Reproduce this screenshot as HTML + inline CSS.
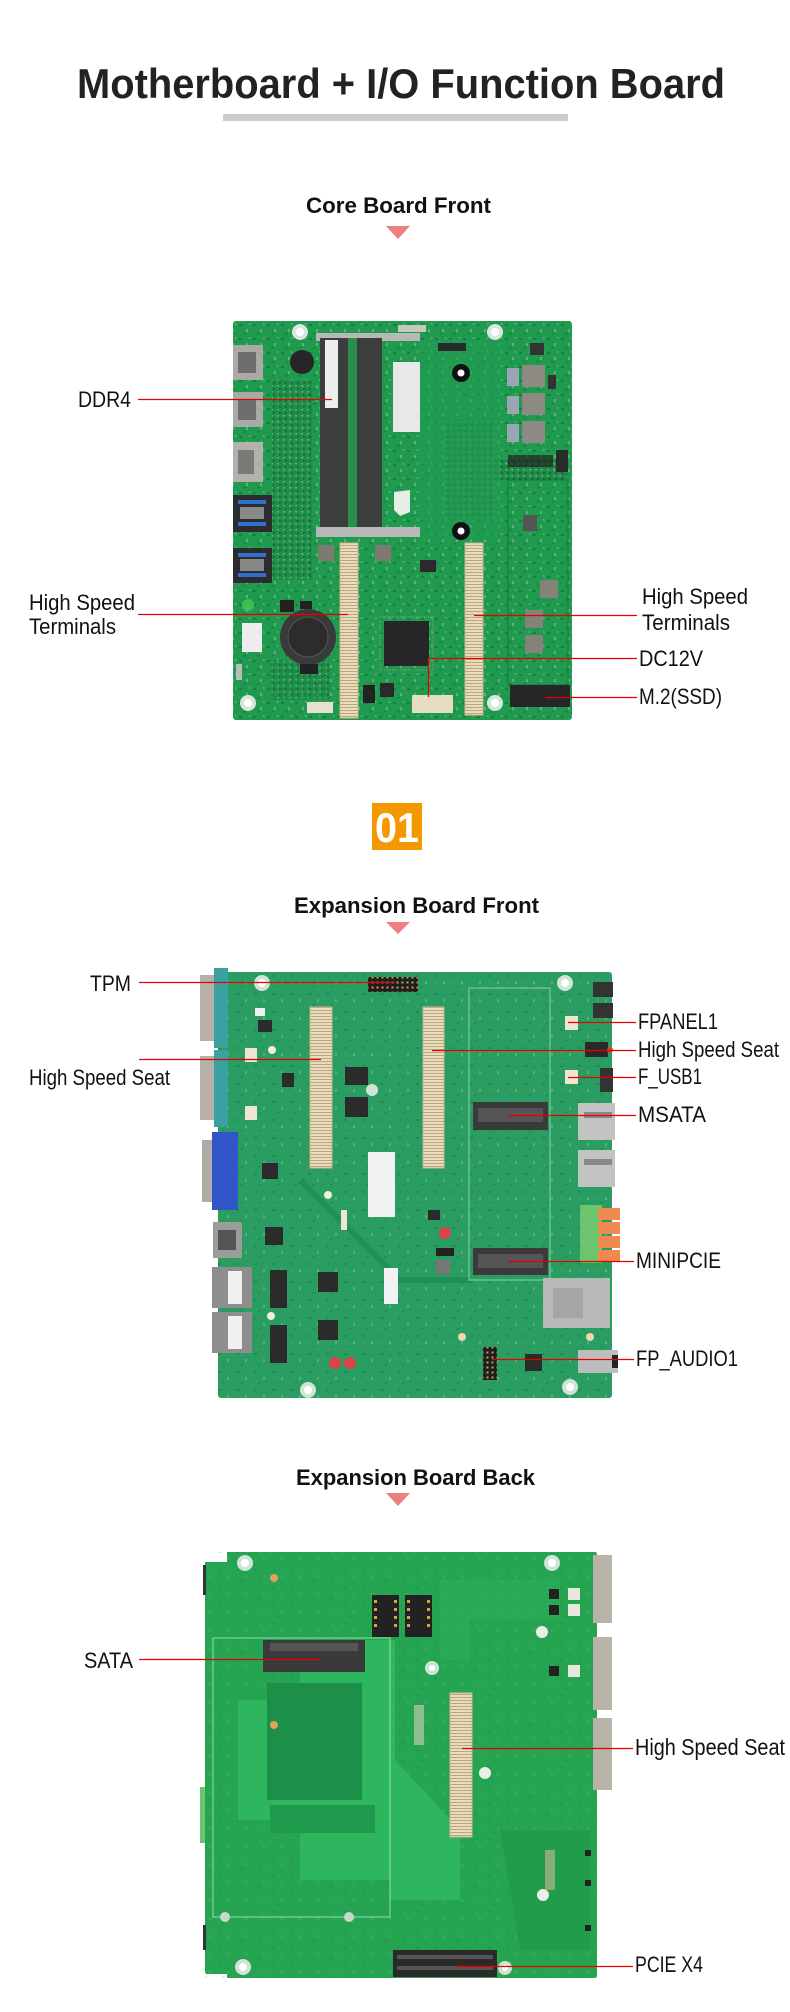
<!DOCTYPE html>
<html><head><meta charset="utf-8"><style>
html,body{margin:0;padding:0;background:#fff;}
svg{display:block;}
text{font-family:"Liberation Sans",Arial,sans-serif;}
</style></head><body>
<svg width="790" height="2012" viewBox="0 0 790 2012" xmlns="http://www.w3.org/2000/svg">
<defs>
<pattern id="tex" width="14" height="14" patternUnits="userSpaceOnUse">
<rect x="1" y="2" width="3" height="2" fill="#0b5e2c" opacity="0.45"/>
<rect x="8" y="7" width="2" height="3" fill="#d8d8c8" opacity="0.35"/>
<rect x="5" y="11" width="3" height="1.5" fill="#0b5e2c" opacity="0.4"/>
<rect x="11" y="1" width="1.5" height="2" fill="#e8e8e0" opacity="0.3"/>
</pattern>
<pattern id="tex2" width="18" height="18" patternUnits="userSpaceOnUse">
<rect x="2" y="3" width="3" height="2" fill="#0d6a3c" opacity="0.35"/>
<rect x="11" y="9" width="2" height="3" fill="#e0e0d0" opacity="0.25"/>
<rect x="6" y="14" width="3" height="1.5" fill="#0d6a3c" opacity="0.3"/>
</pattern>
<pattern id="dense" width="6" height="6" patternUnits="userSpaceOnUse">
<rect width="6" height="6" fill="#1a8a45"/>
<rect x="1" y="1" width="2" height="1.5" fill="#c9c9b8" opacity="0.6"/>
<rect x="3" y="4" width="2" height="1.5" fill="#222" opacity="0.6"/>
</pattern>
<pattern id="pins" width="3" height="3" patternUnits="userSpaceOnUse">
<rect width="3" height="3" fill="#e9dcbf"/><rect x="0" y="2" width="3" height="1" fill="#b9a67c"/>
</pattern>
<pattern id="hdr" width="5" height="5" patternUnits="userSpaceOnUse">
<rect width="5" height="5" fill="#1e1e1e"/><rect x="1.5" y="1.5" width="2" height="2" fill="#c8a050"/>
</pattern>
</defs>

<!-- Title -->
<text x="77" y="98" font-size="42" font-weight="bold" fill="#222" textLength="648" lengthAdjust="spacingAndGlyphs">Motherboard + I/O Function Board</text>
<rect x="223" y="114" width="345" height="7" fill="#cccccc"/>

<text x="306" y="213" font-size="22" font-weight="bold" fill="#111" textLength="185" lengthAdjust="spacingAndGlyphs">Core Board Front</text>
<polygon points="386,226 410,226 398,239" fill="#ec8080"/>

<!-- ============ CORE BOARD ============ -->
<g>
<rect x="233" y="321" width="339" height="399" rx="3" fill="#1f9a4f"/>
<rect x="233" y="321" width="339" height="399" rx="3" fill="url(#tex)"/>
<rect x="272" y="380" width="40" height="200" fill="url(#dense)" opacity="0.7"/>
<rect x="445" y="420" width="50" height="100" fill="url(#dense)" opacity="0.7"/>
<rect x="495" y="460" width="70" height="20" fill="url(#dense)" opacity="0.8"/>
<rect x="270" y="660" width="60" height="40" fill="url(#dense)" opacity="0.6"/>
<rect x="508" y="480" width="60" height="205" fill="none" stroke="#137a3a" stroke-width="1"/>
<rect x="420" y="340" width="80" height="200" fill="#229e55" opacity="0.6"/>
<!-- left IO -->
<rect x="233" y="345" width="30" height="35" fill="#a9a9a6"/><rect x="238" y="352" width="18" height="21" fill="#6e6e6e"/>
<rect x="233" y="392" width="30" height="35" fill="#a9a9a6"/><rect x="238" y="399" width="18" height="21" fill="#6e6e6e"/>
<rect x="233" y="442" width="30" height="40" fill="#b3b1ac"/><rect x="238" y="450" width="16" height="24" fill="#7a7a78"/>
<rect x="233" y="495" width="39" height="37" fill="#2c2c2e"/><rect x="238" y="500" width="28" height="4" fill="#2e6fd0"/><rect x="238" y="522" width="28" height="4" fill="#2e6fd0"/><rect x="240" y="507" width="24" height="12" fill="#888"/>
<rect x="233" y="548" width="39" height="35" fill="#2c2c2e"/><rect x="238" y="553" width="28" height="4" fill="#2e6fd0"/><rect x="238" y="573" width="28" height="4" fill="#2e6fd0"/><rect x="240" y="559" width="24" height="12" fill="#888"/>
<!-- DIMM -->
<rect x="316" y="333" width="104" height="8" fill="#b8b8b8"/>
<rect x="320" y="338" width="28" height="199" fill="#3b3e3d"/>
<rect x="357" y="338" width="25" height="199" fill="#3b3e3d"/>
<rect x="348" y="338" width="9" height="199" fill="#2a8f4c"/>
<rect x="325" y="340" width="13" height="68" fill="#eeeeee"/>
<rect x="316" y="527" width="104" height="10" fill="#b8b8b8"/>
<rect x="393" y="362" width="27" height="70" fill="#e8e8e8"/>
<path d="M394 492 L410 490 L410 512 L400 516 L394 510 Z" fill="#e6efe6"/>
<!-- holes -->
<circle cx="461" cy="373" r="9" fill="#111"/><circle cx="461" cy="373" r="3.5" fill="#fff"/>
<circle cx="461" cy="531" r="9" fill="#111"/><circle cx="461" cy="531" r="3.5" fill="#fff"/>
<circle cx="300" cy="332" r="8" fill="#d9e6dc"/><circle cx="300" cy="332" r="4" fill="#fff"/>
<circle cx="495" cy="332" r="8" fill="#d9e6dc"/><circle cx="495" cy="332" r="4" fill="#fff"/>
<circle cx="248" cy="703" r="8" fill="#d9e6dc"/><circle cx="248" cy="703" r="4" fill="#fff"/>
<circle cx="495" cy="703" r="8" fill="#d9e6dc"/><circle cx="495" cy="703" r="4" fill="#fff"/>
<circle cx="302" cy="362" r="12" fill="#262626"/>
<!-- inductors -->
<rect x="522" y="365" width="23" height="22" fill="#8c8a82"/>
<rect x="522" y="393" width="23" height="22" fill="#8c8a82"/>
<rect x="522" y="421" width="23" height="22" fill="#8c8a82"/>
<rect x="507" y="368" width="12" height="18" fill="#9aa5b5"/>
<rect x="507" y="396" width="12" height="18" fill="#9aa5b5"/>
<rect x="507" y="424" width="12" height="18" fill="#9aa5b5"/>
<rect x="548" y="375" width="8" height="14" fill="#333"/>
<rect x="556" y="450" width="12" height="22" fill="#2a2a2a"/>
<rect x="508" y="455" width="45" height="12" fill="#222" opacity="0.7"/>
<rect x="523" y="515" width="14" height="16" fill="#555"/>
<rect x="540" y="580" width="18" height="18" fill="#858279"/>
<rect x="525" y="610" width="18" height="18" fill="#858279"/>
<rect x="525" y="635" width="18" height="18" fill="#858279"/>
<rect x="530" y="343" width="14" height="12" fill="#333"/>
<rect x="438" y="343" width="28" height="8" fill="#2a2a2a"/>
<rect x="398" y="325" width="28" height="7" fill="#c8c8b8"/>
<!-- HS terminals -->
<rect x="340" y="543" width="18" height="175" fill="url(#pins)"/>
<rect x="340" y="543" width="18" height="175" fill="none" stroke="#cbb88e" stroke-width="1"/>
<rect x="465" y="543" width="18" height="172" fill="url(#pins)"/>
<rect x="465" y="543" width="18" height="172" fill="none" stroke="#cbb88e" stroke-width="1"/>
<rect x="318" y="545" width="16" height="16" fill="#7d7a72"/>
<rect x="375" y="545" width="16" height="16" fill="#7d7a72"/>
<rect x="420" y="560" width="16" height="12" fill="#2a2a2a"/>
<!-- chip -->
<rect x="384" y="621" width="45" height="45" fill="#262626"/>
<rect x="380" y="617" width="53" height="53" fill="none" stroke="#9a9a8a" stroke-width="1" stroke-dasharray="1 1"/>
<!-- battery -->
<circle cx="308" cy="637" r="28" fill="#3a3a3a"/><circle cx="308" cy="637" r="20" fill="#2c2c2c" stroke="#555"/>
<rect x="300" y="664" width="18" height="10" fill="#222"/>
<rect x="300" y="601" width="12" height="8" fill="#222"/>
<rect x="242" y="623" width="20" height="29" fill="#eeeeee"/>
<circle cx="248" cy="605" r="6" fill="#3fbf55"/>
<rect x="280" y="600" width="14" height="12" fill="#222"/>
<!-- bottom -->
<rect x="510" y="685" width="60" height="22" fill="#262626"/>
<rect x="412" y="695" width="41" height="18" fill="#e6dcc2"/>
<rect x="307" y="702" width="26" height="11" fill="#e6e0d0"/>
<rect x="236" y="664" width="6" height="16" fill="#bbb"/>
<rect x="363" y="685" width="12" height="18" fill="#222"/>
<rect x="380" y="683" width="14" height="14" fill="#2a2a2a"/>
</g>

<!-- core labels -->
<g fill="#111" font-size="22">
<text x="78" y="407" textLength="53" lengthAdjust="spacingAndGlyphs">DDR4</text>
<text x="29" y="610" textLength="106" lengthAdjust="spacingAndGlyphs">High Speed</text>
<text x="29" y="634" textLength="87" lengthAdjust="spacingAndGlyphs">Terminals</text>
<text x="642" y="604" textLength="106" lengthAdjust="spacingAndGlyphs">High Speed</text>
<text x="642" y="630" textLength="88" lengthAdjust="spacingAndGlyphs">Terminals</text>
<text x="639" y="666" textLength="64" lengthAdjust="spacingAndGlyphs">DC12V</text>
<text x="639" y="704" textLength="83" lengthAdjust="spacingAndGlyphs">M.2(SSD)</text>
</g>
<g stroke="#e60000" stroke-width="1.3" fill="none">
<path d="M138 399.5 H332"/>
<path d="M138 614.5 H348"/>
<path d="M474 615.5 H637"/>
<path d="M637 658.5 H428.5 V697"/>
<path d="M545 697.5 H637"/>
</g>

<!-- badge -->
<rect x="372" y="803" width="50" height="47" fill="#f39800"/>
<text x="397" y="842" font-size="42" font-weight="bold" fill="#fff" text-anchor="middle" textLength="44" lengthAdjust="spacingAndGlyphs">01</text>

<text x="294" y="913" font-size="22" font-weight="bold" fill="#111" textLength="245" lengthAdjust="spacingAndGlyphs">Expansion Board Front</text>
<polygon points="386,922 410,922 398,934" fill="#ec8080"/>

<!-- ============ EXPANSION FRONT ============ -->
<g>
<rect x="218" y="972" width="394" height="426" rx="3" fill="#2a9d62"/>
<rect x="218" y="972" width="394" height="426" rx="3" fill="url(#tex2)"/>
<path d="M300 1180 L400 1280 L470 1280" stroke="#238f58" stroke-width="6" fill="none"/>
<!-- left IO -->
<rect x="200" y="975" width="16" height="66" fill="#b5b1a8"/><rect x="214" y="968" width="14" height="80" fill="#3aa0a0"/>
<rect x="200" y="1056" width="16" height="64" fill="#b5b1a8"/><rect x="214" y="1050" width="14" height="77" fill="#3aa0a0"/>
<rect x="202" y="1140" width="14" height="62" fill="#b0aca5"/><rect x="212" y="1132" width="26" height="78" fill="#2f55c8"/>
<rect x="213" y="1222" width="29" height="36" fill="#9c9c9c"/><rect x="218" y="1230" width="18" height="20" fill="#555"/>
<rect x="212" y="1267" width="40" height="41" fill="#8e8e8e"/><rect x="228" y="1271" width="14" height="33" fill="#f0f0f0"/>
<rect x="212" y="1312" width="40" height="41" fill="#8e8e8e"/><rect x="228" y="1316" width="14" height="33" fill="#f0f0f0"/>
<!-- headers / seats -->
<rect x="368" y="977" width="50" height="15" fill="url(#hdr)"/>
<rect x="310" y="1007" width="22" height="161" fill="url(#pins)"/>
<rect x="310" y="1007" width="22" height="161" fill="none" stroke="#cbb88e"/>
<rect x="423" y="1007" width="21" height="161" fill="url(#pins)"/>
<rect x="423" y="1007" width="21" height="161" fill="none" stroke="#cbb88e"/>
<rect x="368" y="1152" width="27" height="65" fill="#f2f2f2"/>
<rect x="384" y="1268" width="14" height="36" fill="#f2f2f2"/>
<rect x="469" y="988" width="81" height="292" fill="none" stroke="#8fd0ab" stroke-width="1"/>
<rect x="473" y="1102" width="75" height="28" fill="#3a3a3a"/><rect x="478" y="1108" width="65" height="14" fill="#555"/>
<rect x="473" y="1248" width="75" height="27" fill="#3a3a3a"/><rect x="478" y="1254" width="65" height="14" fill="#555"/>
<!-- right IO -->
<rect x="593" y="982" width="20" height="15" fill="#333"/>
<rect x="593" y="1003" width="20" height="15" fill="#333"/>
<rect x="585" y="1042" width="23" height="15" fill="#2a2a2a"/><circle cx="610" cy="1050" r="3" fill="#e04020"/>
<rect x="600" y="1068" width="13" height="24" fill="#333"/>
<rect x="565" y="1016" width="13" height="14" fill="#efe6d2"/>
<rect x="565" y="1070" width="13" height="14" fill="#efe6d2"/>
<rect x="578" y="1103" width="37" height="37" fill="#c3c3c3"/><rect x="584" y="1112" width="28" height="6" fill="#888"/>
<rect x="578" y="1150" width="37" height="37" fill="#c3c3c3"/><rect x="584" y="1159" width="28" height="6" fill="#888"/>
<rect x="580" y="1205" width="22" height="58" fill="#6cc46f"/>
<rect x="598" y="1208" width="22" height="12" fill="#ee8a4f"/><rect x="598" y="1222" width="22" height="12" fill="#ee8a4f"/>
<rect x="598" y="1236" width="22" height="12" fill="#ee8a4f"/><rect x="598" y="1250" width="22" height="12" fill="#ee8a4f"/>
<rect x="543" y="1278" width="67" height="50" fill="#b8b8b8"/><rect x="553" y="1288" width="30" height="30" fill="#a5a5a5"/>
<rect x="578" y="1350" width="40" height="23" fill="#bdbdbd"/><rect x="612" y="1355" width="6" height="13" fill="#222"/>
<rect x="483" y="1347" width="14" height="33" fill="url(#hdr)"/>
<!-- chips -->
<rect x="345" y="1067" width="23" height="18" fill="#2b2b2b"/>
<rect x="345" y="1097" width="23" height="20" fill="#2b2b2b"/>
<rect x="318" y="1272" width="20" height="20" fill="#2b2b2b"/>
<rect x="318" y="1320" width="20" height="20" fill="#2b2b2b"/>
<rect x="265" y="1227" width="18" height="18" fill="#2b2b2b"/>
<rect x="262" y="1163" width="16" height="16" fill="#2b2b2b"/>
<rect x="270" y="1270" width="17" height="38" fill="#2b2b2b"/>
<rect x="270" y="1325" width="17" height="38" fill="#2b2b2b"/>
<rect x="525" y="1354" width="17" height="17" fill="#2b2b2b"/>
<rect x="282" y="1073" width="12" height="14" fill="#2b2b2b"/>
<rect x="258" y="1020" width="14" height="12" fill="#2b2b2b"/>
<rect x="428" y="1210" width="12" height="10" fill="#2b2b2b"/>
<rect x="436" y="1260" width="14" height="14" fill="#777"/>
<rect x="436" y="1248" width="18" height="8" fill="#222"/>
<rect x="341" y="1210" width="6" height="20" fill="#efe6d2"/>
<rect x="245" y="1048" width="12" height="14" fill="#efe6d2"/>
<rect x="245" y="1106" width="12" height="14" fill="#efe6d2"/>
<rect x="255" y="1008" width="10" height="8" fill="#f0f0f0"/>
<circle cx="445" cy="1233" r="6" fill="#d94545"/>
<circle cx="335" cy="1363" r="6" fill="#d94545"/>
<circle cx="350" cy="1363" r="6" fill="#d94545"/>
<!-- holes -->
<circle cx="262" cy="983" r="8" fill="#cfe3d6"/><circle cx="262" cy="983" r="4" fill="#fff"/>
<circle cx="565" cy="983" r="8" fill="#cfe3d6"/><circle cx="565" cy="983" r="4" fill="#fff"/>
<circle cx="308" cy="1390" r="8" fill="#cfe3d6"/><circle cx="308" cy="1390" r="4" fill="#fff"/>
<circle cx="570" cy="1387" r="8" fill="#cfe3d6"/><circle cx="570" cy="1387" r="4" fill="#fff"/>
<circle cx="372" cy="1090" r="6" fill="#cfe3d6"/>
<circle cx="272" cy="1050" r="4" fill="#f5f0d0"/>
<circle cx="328" cy="1195" r="4" fill="#f5f0d0"/>
<circle cx="271" cy="1316" r="4" fill="#f5f0d0"/>
<circle cx="462" cy="1337" r="4" fill="#f0d8a8"/>
<circle cx="590" cy="1337" r="4" fill="#f0d8a8"/>
</g>

<g fill="#111" font-size="22">
<text x="90" y="991" textLength="41" lengthAdjust="spacingAndGlyphs">TPM</text>
<text x="29" y="1085" textLength="141" lengthAdjust="spacingAndGlyphs">High Speed Seat</text>
<text x="638" y="1029" textLength="80" lengthAdjust="spacingAndGlyphs">FPANEL1</text>
<text x="638" y="1057" textLength="141" lengthAdjust="spacingAndGlyphs">High Speed Seat</text>
<text x="638" y="1084" textLength="64" lengthAdjust="spacingAndGlyphs">F_USB1</text>
<text x="638" y="1122" textLength="68" lengthAdjust="spacingAndGlyphs">MSATA</text>
<text x="636" y="1268" textLength="85" lengthAdjust="spacingAndGlyphs">MINIPCIE</text>
<text x="636" y="1366" textLength="102" lengthAdjust="spacingAndGlyphs">FP_AUDIO1</text>
</g>
<g stroke="#e60000" stroke-width="1.3" fill="none">
<path d="M139 982.5 H395"/>
<path d="M139 1059.5 H321"/>
<path d="M568 1022.5 H636"/>
<path d="M432 1050.5 H636"/>
<path d="M568 1077.5 H636"/>
<path d="M508 1115.5 H636"/>
<path d="M508 1261.5 H634"/>
<path d="M492 1359.5 H634"/>
</g>

<text x="296" y="1485" font-size="22" font-weight="bold" fill="#111" textLength="239" lengthAdjust="spacingAndGlyphs">Expansion Board Back</text>
<polygon points="386,1493 410,1493 398,1506" fill="#ec8080"/>

<!-- ============ EXPANSION BACK ============ -->
<g>
<path d="M227 1552 H595 Q597 1552 597 1555 V1976 Q597 1978 594 1978 H227 V1974 H207 Q205 1974 205 1971 V1562 H227 Z" fill="#25a452"/>
<rect x="205" y="1552" width="392" height="426" fill="url(#tex2)" opacity="0.5"/>
<path d="M238 1700 H300 V1640 H395 V1760 L460 1830 V1900 H390 V1880 H300 V1820 H238 Z" fill="#2db65d"/>
<rect x="267" y="1683" width="95" height="117" fill="#1c9048"/>
<rect x="270" y="1805" width="105" height="28" fill="#1f9a4c"/>
<path d="M440 1580 H560 V1620 H470 V1660 H440 Z" fill="#2bab58" opacity="0.8"/>
<path d="M500 1830 H590 V1950 H520 Z" fill="#1f9a4b" opacity="0.8"/>
<rect x="213" y="1638" width="177" height="279" fill="none" stroke="#98dcae" stroke-width="1"/>
<rect x="263" y="1640" width="102" height="32" fill="#3a3a3a"/><rect x="270" y="1643" width="88" height="8" fill="#555"/>
<rect x="372" y="1595" width="27" height="42" fill="#222"/>
<rect x="405" y="1595" width="27" height="42" fill="#222"/>
<g fill="#e0a040">
<rect x="374" y="1600" width="3" height="3"/><rect x="374" y="1608" width="3" height="3"/><rect x="374" y="1616" width="3" height="3"/><rect x="374" y="1624" width="3" height="3"/>
<rect x="394" y="1600" width="3" height="3"/><rect x="394" y="1608" width="3" height="3"/><rect x="394" y="1616" width="3" height="3"/><rect x="394" y="1624" width="3" height="3"/>
<rect x="407" y="1600" width="3" height="3"/><rect x="407" y="1608" width="3" height="3"/><rect x="407" y="1616" width="3" height="3"/><rect x="407" y="1624" width="3" height="3"/>
<rect x="427" y="1600" width="3" height="3"/><rect x="427" y="1608" width="3" height="3"/><rect x="427" y="1616" width="3" height="3"/><rect x="427" y="1624" width="3" height="3"/>
</g>
<rect x="450" y="1693" width="22" height="144" fill="url(#pins)"/>
<rect x="450" y="1693" width="22" height="144" fill="none" stroke="#cbb88e"/>
<rect x="393" y="1950" width="104" height="27" fill="#2a2a2a"/>
<rect x="397" y="1955" width="96" height="4" fill="#555"/><rect x="397" y="1966" width="96" height="4" fill="#555"/>
<rect x="593" y="1555" width="19" height="68" fill="#b8b3a8"/>
<rect x="593" y="1637" width="19" height="73" fill="#b8b3a8"/>
<rect x="593" y="1718" width="19" height="72" fill="#b8b3a8"/>
<rect x="200" y="1787" width="5" height="56" fill="#6cc46f"/>
<rect x="203" y="1565" width="3" height="30" fill="#333"/>
<rect x="203" y="1925" width="3" height="25" fill="#333"/>
<rect x="549" y="1589" width="10" height="10" fill="#222"/><rect x="549" y="1605" width="10" height="10" fill="#222"/>
<rect x="568" y="1588" width="12" height="12" fill="#e8e8e0"/><rect x="568" y="1604" width="12" height="12" fill="#e8e8e0"/>
<rect x="549" y="1666" width="10" height="10" fill="#222"/><rect x="568" y="1665" width="12" height="12" fill="#e8e8e0"/>
<rect x="414" y="1705" width="10" height="40" fill="#d8d0c0" opacity="0.6"/>
<circle cx="245" cy="1563" r="8" fill="#cfe3d6"/><circle cx="245" cy="1563" r="4" fill="#fff"/>
<circle cx="552" cy="1563" r="8" fill="#cfe3d6"/><circle cx="552" cy="1563" r="4" fill="#fff"/>
<circle cx="432" cy="1668" r="7" fill="#cfe3d6"/><circle cx="432" cy="1668" r="3" fill="#fff"/>
<circle cx="243" cy="1967" r="8" fill="#cfe3d6"/><circle cx="243" cy="1967" r="4" fill="#fff"/>
<circle cx="505" cy="1968" r="7" fill="#cfe3d6"/><circle cx="505" cy="1968" r="3" fill="#fff"/>
<circle cx="485" cy="1773" r="6" fill="#e8efe8"/>
<circle cx="542" cy="1632" r="6" fill="#e8efe8"/>
<circle cx="543" cy="1895" r="6" fill="#e8efe8"/>
<circle cx="225" cy="1917" r="5" fill="#c8d8cc"/>
<circle cx="349" cy="1917" r="5" fill="#c8d8cc"/>
<circle cx="274" cy="1578" r="4" fill="#e0a060"/>
<circle cx="274" cy="1725" r="4" fill="#e0a060"/>
<rect x="585" y="1850" width="6" height="6" fill="#222"/><rect x="585" y="1880" width="6" height="6" fill="#222"/><rect x="585" y="1925" width="6" height="6" fill="#222"/>
<rect x="545" y="1850" width="10" height="40" fill="#d0b890" opacity="0.6"/>
</g>

<g fill="#111">
<text x="84" y="1668" font-size="22" textLength="49" lengthAdjust="spacingAndGlyphs">SATA</text>
<text x="635" y="1755" font-size="23" textLength="150" lengthAdjust="spacingAndGlyphs">High Speed Seat</text>
<text x="635" y="1972" font-size="22" textLength="68" lengthAdjust="spacingAndGlyphs">PCIE X4</text>
</g>
<g stroke="#e60000" stroke-width="1.3" fill="none">
<path d="M139 1659.5 H320"/>
<path d="M462 1748.5 H633"/>
<path d="M457 1966.5 H633"/>
</g>
</svg>
</body></html>
